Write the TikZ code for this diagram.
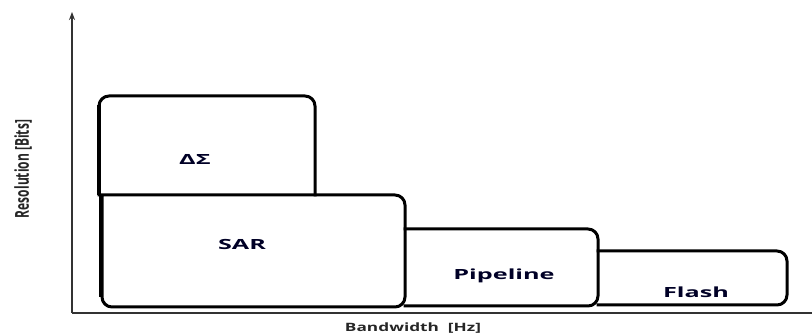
\documentclass[tikz,border=0pt]{standalone}
\usepackage{fontspec}
\setmainfont{Open Sans}
\usetikzlibrary{arrows.meta}
\tikzset{
  boxline/.style={line width=3pt, line join=round, line cap=rect, rounded corners=10pt},
  edgeline/.style={line width=4.5pt},
  axisline/.style={line width=1.6pt, draw=black!80},
  lbl/.style={font=\bfseries\fontsize{14}{16}\selectfont, text=black!85!blue, inner sep=0pt},
  axlbl/.style={font=\bfseries\fontsize{11.5}{13}\selectfont, text=black!85, inner sep=0pt}
}
\begin{document}
\begin{tikzpicture}[x=1pt,y=1pt]
\useasboundingbox (0,0) rectangle (812,335);
\fill[white] (0,0) rectangle (812,335);
% axes
\coordinate (O) at (72,22);
\coordinate (Ytop) at (72,323);
\coordinate (Xend) at (812,22);
\draw[axisline, -{Stealth[length=8pt,width=6pt]}] (O) -- (Ytop);
\draw[axisline] (O) -- (Xend);
% Delta-Sigma box
\draw[boxline] (99,140) -- (99,239) -- (315,239) -- (315,140);
\draw[edgeline] (99,140) -- (99,230);
% SAR box
\draw[boxline] (102,140) -- (405,140) -- (405,28) -- (102,28) -- (102,140);
\draw[edgeline] (101,38) -- (101,140);
% Pipeline box
\draw[boxline] (405,106) -- (598,106) -- (598,29) -- (405,29);
% Flash box
\draw[boxline] (598,84) -- (787,84) -- (787,30) -- (598,30);
% labels
\node[lbl] (ds) at (195,176) {\scalebox{1.8}[1]{ΔΣ}};
\node[lbl] (sar) at (242,91) {\scalebox{1.8}[1]{SAR}};
\node[lbl] (pipe) at (504,59) {\scalebox{1.8}[1]{Pipeline}};
\node[lbl] (flash) at (696,43) {\scalebox{1.8}[1]{Flash}};
\node[axlbl, rotate=90, font=\bfseries\fontsize{12}{14}\selectfont] (ylab) at (23,166) {\scalebox{1}[1.6]{Resolution [Bits]}};
\node[axlbl] (xlab) at (413,7) {\scalebox{1.5}[1]{Bandwidth\ \ [Hz]}};
\end{tikzpicture}
\end{document}
